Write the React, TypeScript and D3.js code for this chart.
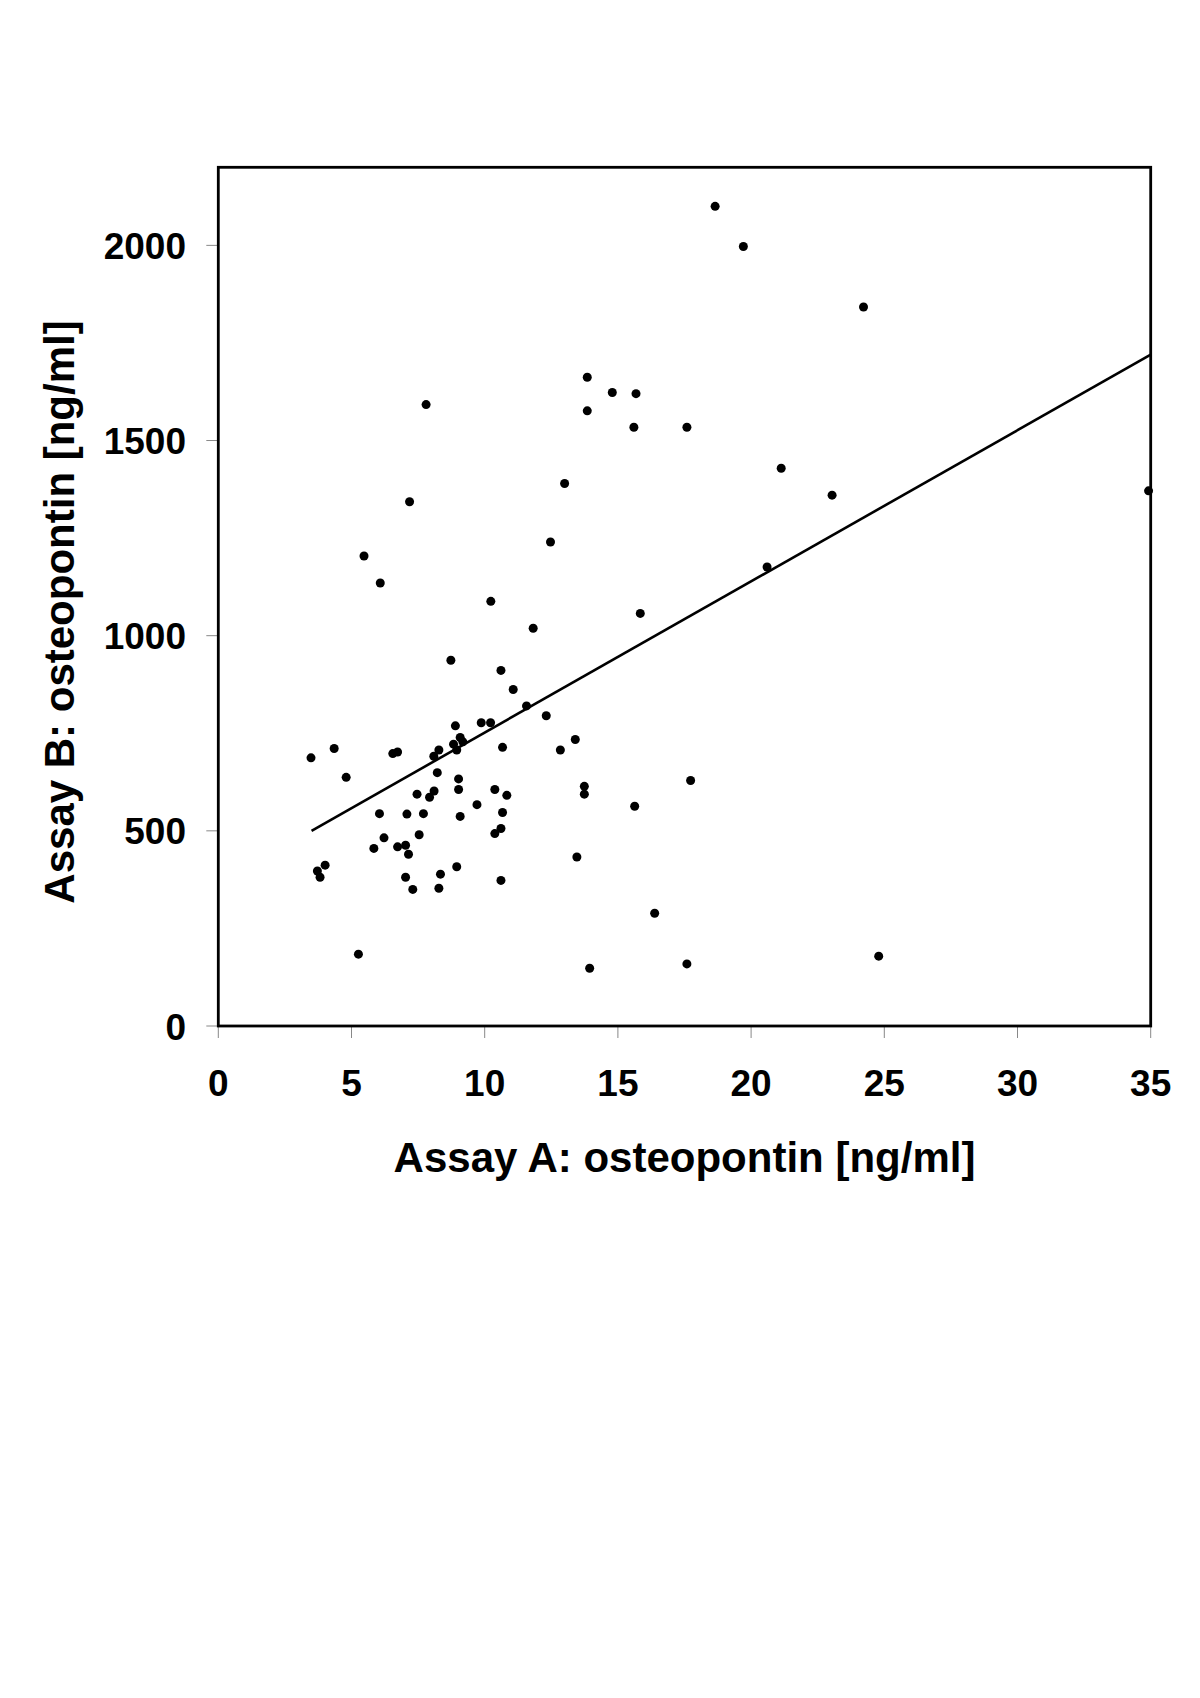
import React from "react";
import * as d3 from "d3";

const assayA: number[] = [
  18.65, 19.71, 24.22, 34.92, 21.13, 23.04, 20.6, 13.85, 14.79, 15.68, 13.85, 15.6, 17.59, 7.8, 7.18, 13.0, 12.47, 5.47, 6.08, 10.23, 15.84, 11.82,
  16.38, 24.79, 17.59, 13.94, 5.26, 17.73, 15.63, 13.46, 13.74, 13.74, 13.4, 12.84,
  8.73, 10.61, 11.07, 11.57, 12.31, 3.48, 4.35, 4.8, 6.55, 6.73, 8.09, 8.28, 8.9, 9.08, 8.83, 9.18, 8.95, 9.87, 10.22, 10.67,
  8.22, 9.02, 9.02, 7.46, 8.1, 7.93, 10.38, 10.83, 9.71, 10.67, 6.05, 7.08, 7.7, 9.08, 7.54, 6.22, 10.38, 10.61, 5.84, 6.73, 7.03, 7.14,
  4.01, 3.72, 3.82, 7.03, 7.3, 8.34, 8.28, 8.95, 10.61,
];
const assayB: number[] = [
  2100, 1997, 1842, 1371, 1429, 1360, 1176, 1662, 1623, 1620, 1576, 1534, 1534, 1592, 1343, 1390, 1240, 1204, 1135, 1088, 1057, 1019,
  289, 179, 159, 148, 184, 629, 563, 433, 614, 594, 734, 707,
  937, 911, 862, 820, 795, 687, 711, 637, 698, 702, 691, 707, 769, 739, 722, 728, 707, 777, 777, 714,
  649, 633, 606, 594, 602, 586, 606, 591, 567, 547, 544, 543, 544, 537, 490, 482, 493, 506, 455, 459, 463, 440,
  412, 397, 381, 381, 350, 389, 353, 408, 373,
];
const trendX: number[] = [3.5, 35];
const trendY: number[] = [500, 1720];
const xTicks: number[] = [0, 5, 10, 15, 20, 25, 30, 35];
const yTicks: number[] = [0, 500, 1000, 1500, 2000];
const xTitle = "Assay A: osteopontin [ng/ml]";
const yTitle = "Assay B: osteopontin [ng/ml]";

const FONT = "'Liberation Sans', Arial, Helvetica, sans-serif";

export default function App() {
  const left = 218.3, right = 1150.7, top = 167.3, bottom = 1026;
  const x = d3.scaleLinear().domain([0, 35]).range([left, right]);
  const y = d3.scaleLinear().domain([0, 2200]).range([bottom, top]);
  const line = d3.line<number>().x((d) => x(trendX[d])).y((d) => y(trendY[d]));
  const pts = assayA.map((a, i) => ({ a, b: assayB[i] }));

  return (
    <svg
      width={1200}
      height={1698}
      viewBox="0 0 1200 1698"
      style={{ position: "absolute", left: 0, top: 0, background: "#fff" }}
    >
      <rect x={0} y={0} width={1200} height={1698} fill="#fff" />
      {yTicks.map((t) => (
        <g key={"y" + t}>
          <line x1={left - 12} x2={left} y1={y(t)} y2={y(t)} stroke="#888" strokeWidth={1} />
          <text
            x={186}
            y={y(t) + 13.5}
            textAnchor="end"
            fontFamily={FONT}
            fontWeight="bold"
            fontSize={37}
            fill="#000"
          >
            {t}
          </text>
        </g>
      ))}
      {xTicks.map((t) => (
        <g key={"x" + t}>
          <line x1={x(t)} x2={x(t)} y1={bottom} y2={bottom + 12} stroke="#888" strokeWidth={1} />
          <text
            x={x(t)}
            y={1096}
            textAnchor="middle"
            fontFamily={FONT}
            fontWeight="bold"
            fontSize={37}
            fill="#000"
          >
            {t}
          </text>
        </g>
      ))}
      <rect
        x={left}
        y={top}
        width={right - left}
        height={bottom - top}
        fill="none"
        stroke="#000"
        strokeWidth={2.8}
      />
      <path d={line([0, 1]) || ""} fill="none" stroke="#000" strokeWidth={2.6} />
      {pts.map((p, i) => (
        <circle key={i} cx={x(p.a)} cy={y(p.b)} r={4.5} fill="#000" />
      ))}
      <text
        x={(left + right) / 2}
        y={1172}
        textAnchor="middle"
        fontFamily={FONT}
        fontWeight="bold"
        fontSize={42}
        fill="#000"
      >
        {xTitle}
      </text>
      <text
        transform={`translate(74, 612) rotate(-90)`}
        textAnchor="middle"
        fontFamily={FONT}
        fontWeight="bold"
        fontSize={42}
        fill="#000"
      >
        {yTitle}
      </text>
    </svg>
  );
}
